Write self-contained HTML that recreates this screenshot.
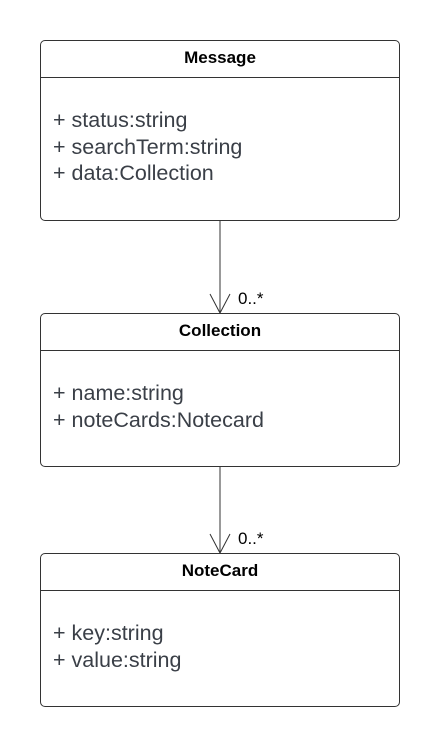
<!DOCTYPE html>
<html><head><style>
body{margin:0;width:440px;height:746px;background:#fff;position:relative;font-family:"Liberation Sans",sans-serif;overflow:hidden}
.box{position:absolute;left:40px;width:358px;border:1px solid #333;border-radius:5px;background:#fff}
.t{height:36px;border-bottom:1px solid #333;text-align:center;font-weight:bold;font-size:17px;line-height:34px;color:#000}
.a{padding:29px 0 0 12px;font-size:21.5px;line-height:26.5px;color:#3a3f47}
.m{position:absolute;font-size:17px;color:#000}
</style></head><body>
<svg width="440" height="746" style="position:absolute;left:0;top:0">
<g stroke="#333" stroke-width="1" fill="none">
<line x1="220" y1="220" x2="220" y2="313"/>
<polyline points="210,294 220,313 230,294"/>
<line x1="220" y1="466" x2="220" y2="553"/>
<polyline points="210,534 220,553 230,534"/>
</g></svg>
<div class="box" style="top:40px;height:179px"><div class="t">Message</div><div class="a">+ status:string<br>+ searchTerm:string<br>+ data:Collection</div></div>
<div class="box" style="top:313px;height:152px"><div class="t">Collection</div><div class="a">+ name:string<br>+ noteCards:Notecard</div></div>
<div class="box" style="top:553px;height:152px"><div class="t">NoteCard</div><div class="a">+ key:string<br>+ value:string</div></div>
<div class="m" style="left:238px;top:289px">0..*</div>
<div class="m" style="left:238px;top:529px">0..*</div>
</body></html>
